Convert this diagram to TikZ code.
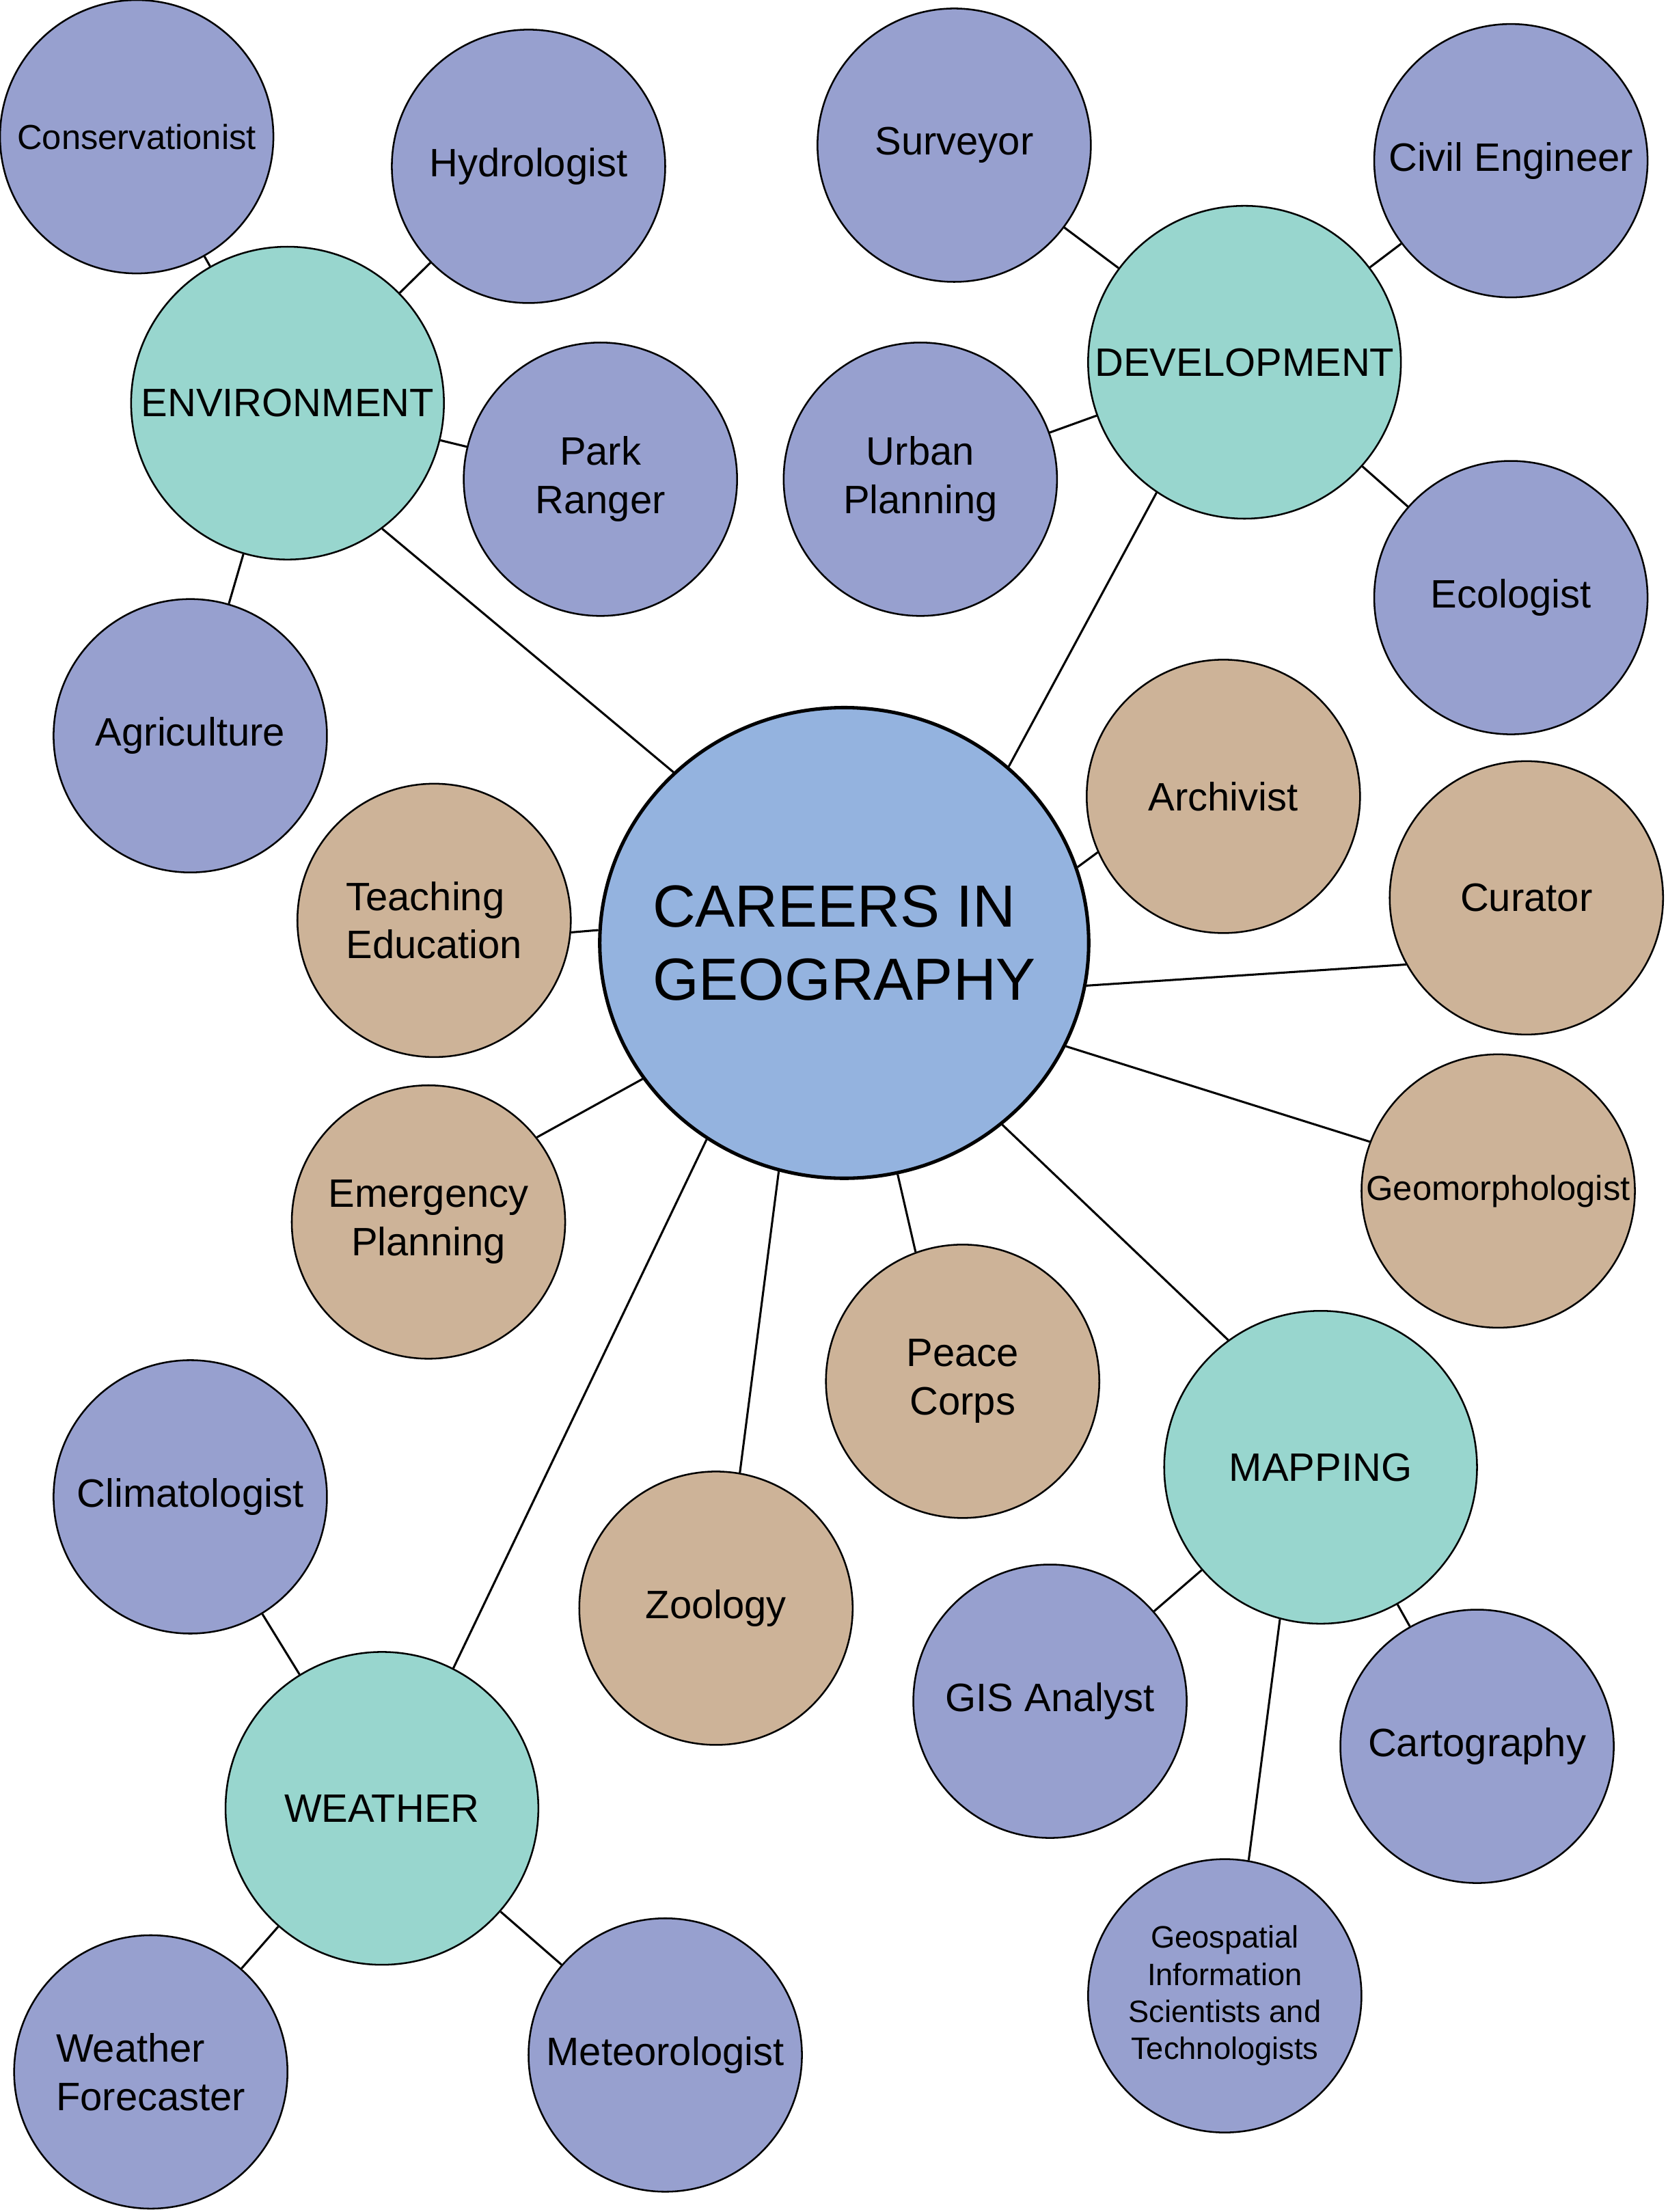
\documentclass[tikz,border=0pt]{standalone}
\usepackage{fontspec}
\setmainfont{Liberation Sans}
\usetikzlibrary{shapes.geometric}
\definecolor{hubblue}{HTML}{94B3DF}
\definecolor{leafpurple}{HTML}{97A0CF}
\definecolor{groupteal}{HTML}{98D6CE}
\definecolor{jobtan}{HTML}{CDB398}
\tikzset{   hub/.style = {ellipse, draw = black, line width = 1.4pt, fill = hubblue, minimum width = 6.94cm, minimum height = 6.68cm, inner xsep = -0.5cm, inner ysep = 0pt, align = left, font = \fontsize{24}{29.5}\selectfont},
            group/.style = {circle, draw = black, line width = 0.7pt, fill = groupteal, minimum size = 4.44cm, inner sep = 0pt, font = \fontsize{16}{19.5}\selectfont},
            leaf/.style = {circle, draw = black, line width = 0.7pt, fill = leafpurple, minimum size = 3.88cm, inner sep = 0pt, align = center, font = \fontsize{16}{19.5}\selectfont},
            job/.style = {leaf, fill = jobtan},
            link/.style = {draw = black, line width = 0.85pt}}
\begin{document}
\begin{tikzpicture}[x=0.02cm, y=-0.02cm]
                        \useasboundingbox (0,0) rectangle (1183,1569.4);
                        \node[hub] (careers) at (599,669) {CAREERS IN\\GEOGRAPHY};
                        \node[group] (environment) at (204,286) {ENVIRONMENT};
                        \node[group] (development) at (883,257) {DEVELOPMENT};
                        \node[group] (mapping) at (937,1041) {MAPPING};
                        \node[group] (weather) at (271,1283) {WEATHER};
                        \node[leaf, font = \fontsize{14}{17}\selectfont] (conservationist) at (97,97) {Conservationist};
                        \node[leaf] (hydrologist) at (375,118) {Hydrologist};
                        \node[leaf] (parkranger) at (426,340) {Park\\Ranger};
                        \node[leaf] (agriculture) at (135,522) {Agriculture};
                        \node[leaf] (surveyor) at (677,103) {Surveyor};
                        \node[leaf] (civilengineer) at (1072,114) {Civil Engineer};
                        \node[leaf] (urbanplanning) at (653,340) {Urban\\Planning};
                        \node[leaf] (ecologist) at (1072,424) {Ecologist};
                        \node[job] (archivist) at (868,565) {Archivist};
                        \node[job] (curator) at (1083,637) {Curator};
                        \node[job, align = left] (teaching) at (308,653) {Teaching\\Education};
                        \node[job] (emergency) at (304,867) {Emergency\\Planning};
                        \node[job, font = \fontsize{14}{17}\selectfont] (geomorphologist) at (1063,845) {Geomorphologist};
                        \node[job] (peacecorps) at (683,980) {Peace\\Corps};
                        \node[job] (zoology) at (508,1141) {Zoology};
                        \node[leaf] (climatologist) at (135,1062) {Climatologist};
                        \node[leaf] (gisanalyst) at (745,1207) {GIS Analyst};
                        \node[leaf] (cartography) at (1048,1239) {Cartography};
                        \node[leaf, font = \fontsize{12.5}{15}\selectfont] (geospatial) at (869,1416) {Geospatial\\Information\\Scientists and\\Technologists};
                        \node[leaf, align = left] (forecaster) at (107,1470) {Weather\\Forecaster};
                        \node[leaf] (meteorologist) at (472,1458) {Meteorologist};
                        \draw[link] (careers.135) -- (environment.-53);
                        \draw[link] (careers.47) -- (development.236);
                        \draw[link] (careers.-49) -- (mapping.126);
                        \draw[link] (careers.235) -- (weather.63);
                        \draw[link] (careers.18.5) -- (archivist.204);
                        \draw[link] (careers.-10) -- (curator.209);
                        \draw[link] (careers.-25) -- (geomorphologist.159);
                        \draw[link] (careers.-77) -- (peacecorps.110);
                        \draw[link] (careers.254.6) -- (zoology.80);
                        \draw[link] (careers.214) -- (emergency.38);
                        \draw[link] (careers.177) -- (teaching.-5);
                        \draw[link] (environment) -- (conservationist);
                        \draw[link] (environment) -- (hydrologist);
                        \draw[link] (environment) -- (parkranger);
                        \draw[link] (environment) -- (agriculture);
                        \draw[link] (development) -- (surveyor);
                        \draw[link] (development) -- (civilengineer);
                        \draw[link] (development) -- (urbanplanning);
                        \draw[link] (development) -- (ecologist);
                        \draw[link] (mapping) -- (gisanalyst);
                        \draw[link] (mapping) -- (cartography);
                        \draw[link] (mapping.255) -- (geospatial.80);
                        \draw[link] (weather) -- (climatologist);
                        \draw[link] (weather) -- (forecaster);
                        \draw[link] (weather) -- (meteorologist);
                      \end{tikzpicture}
\end{document}
